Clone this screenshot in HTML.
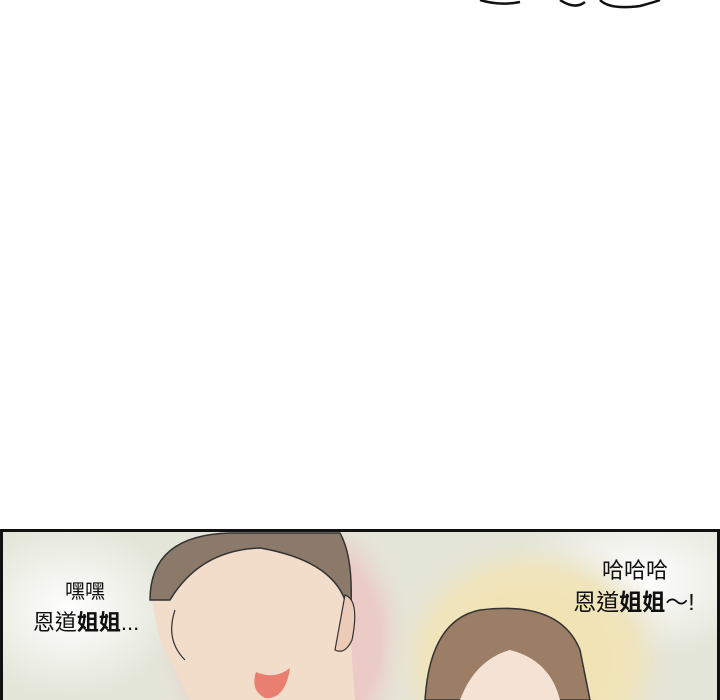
<!DOCTYPE html>
<html><head><meta charset="utf-8"><style>
html,body{margin:0;padding:0;background:#fff;width:720px;height:700px;overflow:hidden}
svg{display:block;overflow:hidden}
text{font-family:"Liberation Sans","Noto Sans CJK TC",sans-serif;fill:#111}
</style></head><body>
<svg width="720" height="700" viewBox="0 0 720 700">
<defs>
<radialGradient id="pink" cx="0.5" cy="0.5" r="0.5"><stop offset="0" stop-color="#f0c7c4"/><stop offset="0.7" stop-color="#ebcbc6"/><stop offset="1" stop-color="#e6e6da" stop-opacity="0"/></radialGradient>
<radialGradient id="yellow" cx="0.5" cy="0.5" r="0.5"><stop offset="0" stop-color="#f4e2a8"/><stop offset="0.7" stop-color="#efe4bc"/><stop offset="1" stop-color="#e6e6da" stop-opacity="0"/></radialGradient>
<radialGradient id="white" cx="0.5" cy="0.5" r="0.5"><stop offset="0" stop-color="#ffffff"/><stop offset="1" stop-color="#ffffff" stop-opacity="0"/></radialGradient>
<clipPath id="panelclip"><rect x="3" y="532" width="714" height="168"/></clipPath>
</defs>
<g fill="none" stroke="#111" stroke-width="2.5">
<path d="M480 0 Q500 6 520 2"/>
<path d="M560 0 Q575 10 585 2"/>
<path d="M600 0 Q610 10 640 6 Q655 2 660 0"/>
</g>
<g>
<rect x="0" y="529" width="720" height="171" fill="#e3e5d8"/>
<g clip-path="url(#panelclip)">
<ellipse cx="70" cy="610" rx="110" ry="90" fill="url(#white)"/>
<ellipse cx="640" cy="580" rx="130" ry="80" fill="url(#white)"/>
<ellipse cx="285" cy="640" rx="135" ry="150" fill="url(#pink)"/>
<ellipse cx="530" cy="660" rx="150" ry="130" fill="url(#yellow)"/>
<g>
<path d="M150 590 Q160 540 240 533 Q330 530 345 560 L355 700 L190 700 Q170 660 160 640 Z" fill="#f2dcca"/>
<path d="M150 600 Q150 535 230 533 L340 533 Q355 560 350 620 L345 600 Q330 560 260 548 Q200 550 170 600 Z" fill="#8b7a6a" stroke="#333" stroke-width="1.5"/>
<path d="M345 595 Q360 600 352 640 Q345 655 335 650 Z" fill="#ecccb8" stroke="#333" stroke-width="1.2"/>
<path d="M256 672 Q275 680 290 668 Q285 700 265 698 Q250 690 256 672 Z" fill="#e87f70"/>
<path d="M175 610 Q165 640 185 660" fill="none" stroke="#333" stroke-width="1.2"/>
</g>
<g>
<path d="M425 700 Q430 620 480 610 Q560 600 580 650 L590 700 Z" fill="#9c7e66" stroke="#333" stroke-width="1.5"/>
<path d="M460 700 Q475 660 510 650 Q550 660 560 700 Z" fill="#f4e2d4"/>
</g>
</g>
<path d="M1.5 700 L1.5 530.5 L718.5 530.5 L718.5 700" fill="none" stroke="#111" stroke-width="3"/>
<text x="85" y="598" font-size="20" text-anchor="middle">嘿嘿</text>
<text x="86" y="630" font-size="22" text-anchor="middle">恩道<tspan font-weight="bold">姐姐</tspan>...</text>
<text x="635" y="578" font-size="22" text-anchor="middle">哈哈哈</text>
<text x="634" y="610" font-size="23" text-anchor="middle">恩道<tspan font-weight="bold">姐姐</tspan>～!</text>
</g>
</svg>
</body></html>
